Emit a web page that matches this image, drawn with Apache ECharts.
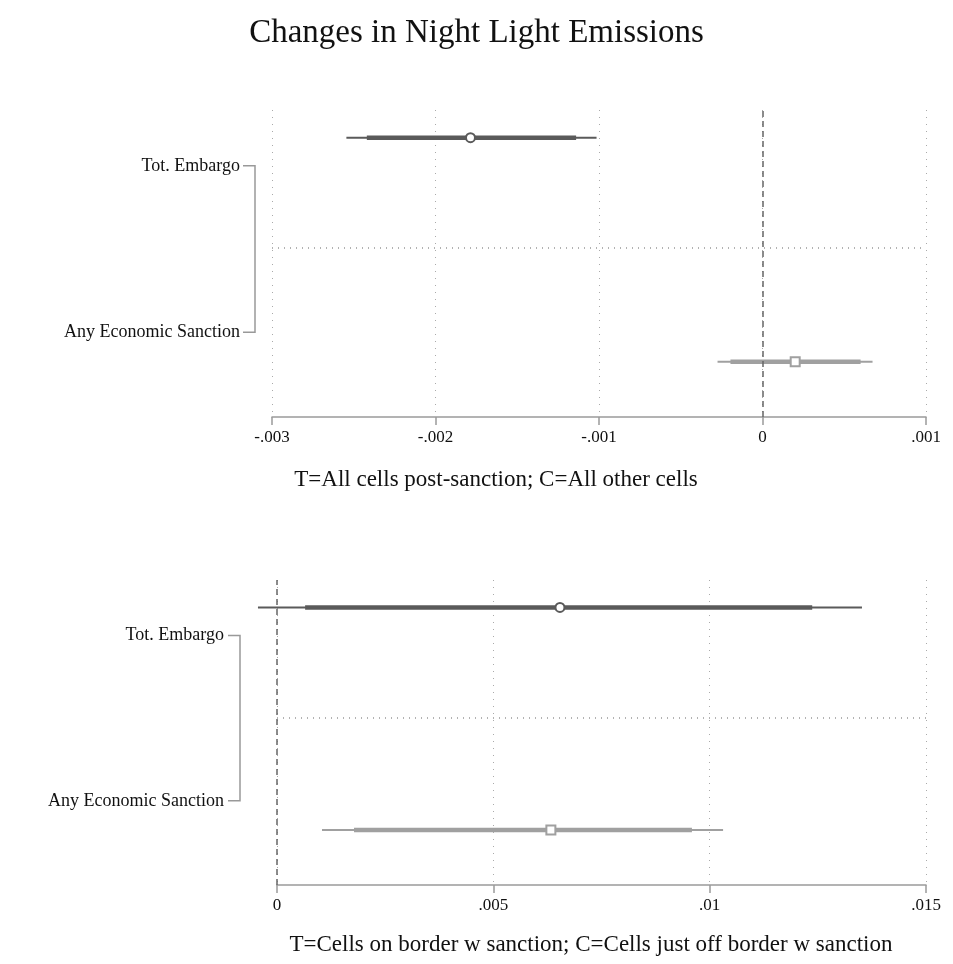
<!DOCTYPE html>
<html><head><meta charset="utf-8">
<script src="https://cdn.jsdelivr.net/npm/echarts@6/dist/echarts.min.js"></script>
<style>html,body{margin:0;background:#fff}#c{width:953px;height:964px}</style>
</head><body><div id="c"></div>
<script>
// category labels and estimates
let categories = ['Tot. Embargo', 'Any Economic Sanction'];
// [point, ci95 low, ci95 high, ci90 low, ci90 high]
let topEst = [
  [-0.001786, -0.002545, -0.001015, -0.00242, -0.00114],
  [0.0002, -0.000275, 0.000673, -0.000196, 0.0006]
];
let bottomEst = [
  [0.00654, -0.00044, 0.01352, 0.00065, 0.01237],
  [0.00633, 0.00104, 0.01031, 0.00178, 0.00959]
];
let topTitle = 'T=All cells post-sanction; C=All other cells';
let bottomTitle = 'T=Cells on border w sanction; C=Cells just off border w sanction';

let colors = ['#5a5a5a', '#a0a0a0'];
let serif = 'Liberation Serif, Times New Roman, serif';
// vertical positions within each panel (0..1)
let markerY = [0.91, 0.18];
let labelY = [0.818, 0.276];
let midY = 0.551;

function fmt(v) {
  if (Math.abs(v) < 1e-12) return '0';
  let s = (+v.toFixed(4)).toString();
  return s.replace(/^(-?)0\./, '$1.');
}

function xAxis(idx, min, max, interval) {
  return {
    gridIndex: idx, type: 'value', min: min, max: max, interval: interval,
    axisLine: { lineStyle: { color: '#9a9a9a', width: 1.5 } },
    axisTick: { length: 8, lineStyle: { color: '#9a9a9a', width: 1.5 } },
    axisLabel: { formatter: fmt, fontFamily: serif, fontSize: 17, color: '#111', margin: 12 },
    splitLine: { show: true, lineStyle: { type: [1, 6], color: '#aaa' } }
  };
}

function ciSeries(idx, est, labelOff, bracketOff) {
  return [{
    type: 'custom', xAxisIndex: idx, yAxisIndex: idx,
    data: est.map((e, i) => [e[0], markerY[i], e[1], e[2], e[3], e[4], i]),
    renderItem: function (params, api) {
      let y = api.value(1), i = api.value(6), c = colors[i];
      let p = api.coord([api.value(0), y]);
      let a = api.coord([api.value(2), y]), b = api.coord([api.value(3), y]);
      let a2 = api.coord([api.value(4), y]), b2 = api.coord([api.value(5), y]);
      let marker = i === 0
        ? { type: 'circle', shape: { cx: p[0], cy: p[1], r: 4.5 }, style: { fill: '#fff', stroke: c, lineWidth: 2 } }
        : { type: 'rect', shape: { x: p[0] - 4.5, y: p[1] - 4.5, width: 9, height: 9 }, style: { fill: '#fff', stroke: c, lineWidth: 2 } };
      return { type: 'group', children: [
        { type: 'line', shape: { x1: a[0], y1: a[1], x2: b[0], y2: b[1] }, style: { stroke: c, lineWidth: 2 } },
        { type: 'line', shape: { x1: a2[0], y1: a2[1], x2: b2[0], y2: b2[1] }, style: { stroke: c, lineWidth: 4.5 } },
        marker
      ] };
    },
    markLine: {
      silent: true, symbol: 'none', label: { show: false },
      data: [
        { xAxis: 0, lineStyle: { type: [6, 4], color: '#666', width: 1.5 } },
        { yAxis: midY, lineStyle: { type: [1, 5], color: '#999', width: 1.5 } }
      ]
    }
  }, {
    type: 'custom', xAxisIndex: idx, yAxisIndex: idx,
    data: [[est[0][0], labelY[0], labelY[1]]],
    renderItem: function (params, api) {
      let x0 = params.coordSys.x;
      let t = api.coord([0, api.value(1)])[1], b = api.coord([0, api.value(2)])[1];
      let bx = x0 + bracketOff;
      let st = { stroke: '#999', lineWidth: 1.5, fill: null };
      let font = '18px ' + serif;
      return { type: 'group', children: [
        { type: 'polyline', shape: { points: [[bx - 12, t], [bx, t], [bx, b], [bx - 12, b]] }, style: st },
        { type: 'text', style: { text: categories[0], x: x0 + labelOff, y: t, align: 'right', verticalAlign: 'middle', font: font, fill: '#111' } },
        { type: 'text', style: { text: categories[1], x: x0 + labelOff, y: b, align: 'right', verticalAlign: 'middle', font: font, fill: '#111' } }
      ] };
    }
  }];
}

let nameStyle = { fontFamily: serif, fontSize: 23, fill: '#111', textAlign: 'center', textVerticalAlign: 'middle' };

let chart = echarts.init(document.getElementById('c'));
chart.setOption({
  animation: false,
  title: { text: 'Changes in Night Light Emissions', left: 'center', top: 12,
    textStyle: { fontFamily: serif, fontSize: 33, fontWeight: 'normal', color: '#111' } },
  grid: [
    { left: 272, right: 27, top: 110, height: 307 },
    { left: 277, right: 27, top: 580, height: 305 }
  ],
  xAxis: [
    xAxis(0, -0.003, 0.001, 0.001),
    xAxis(1, 0, 0.015, 0.005)
  ],
  yAxis: [
    { gridIndex: 0, type: 'value', min: 0, max: 1, show: false },
    { gridIndex: 1, type: 'value', min: 0, max: 1, show: false }
  ],
  graphic: [
    { type: 'text', x: 496, y: 480, style: Object.assign({ text: topTitle }, nameStyle) },
    { type: 'text', x: 591, y: 945, style: Object.assign({ text: bottomTitle }, nameStyle) }
  ],
  series: ciSeries(0, topEst, -32, -17).concat(ciSeries(1, bottomEst, -53, -37))
});
</script></body></html>
